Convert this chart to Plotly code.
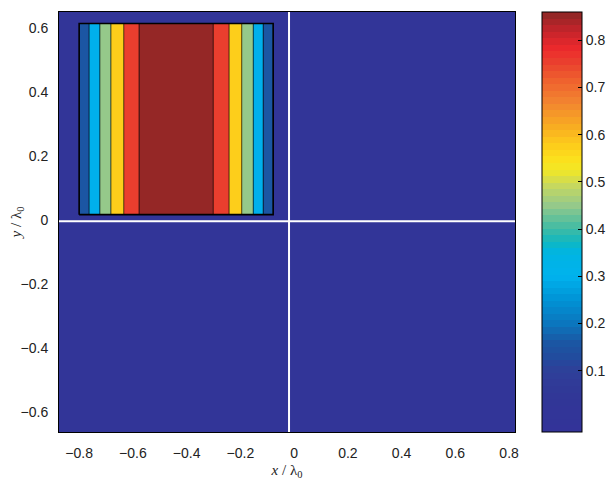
import plotly.graph_objects as go

# ---- data ----
x_range = [-0.875, 0.822]
y_range = [-0.662, 0.65]
band_edges = [-0.800, -0.763, -0.723, -0.682, -0.634, -0.577,
              -0.301, -0.242, -0.195, -0.152, -0.115, -0.078]
band_values = [0.16, 0.30, 0.45, 0.58, 0.75, 0.86, 0.75, 0.58, 0.45, 0.30, 0.16]
band_y = [0.017, 0.614]
background_value = 0.0
divider_x = -0.019
divider_y = -0.004
color_min, color_max = -0.03, 0.86
x_ticks = [-0.8, -0.6, -0.4, -0.2, 0, 0.2, 0.4, 0.6, 0.8]
y_ticks = [-0.6, -0.4, -0.2, 0, 0.2, 0.4, 0.6]
cbar_ticks = [0.1, 0.2, 0.3, 0.4, 0.5, 0.6, 0.7, 0.8]

# colour anchors (value -> colour)
anchors = [
    (-0.03, "#333399"), (0.05, "#313797"), (0.10, "#2E4099"), (0.13, "#214C9E"),
    (0.16, "#1B57A3"), (0.20, "#0B76BE"), (0.25, "#0093D5"), (0.30, "#00B2EE"),
    (0.35, "#00B5E2"), (0.37, "#0DB7C4"), (0.40, "#3DBBA5"), (0.45, "#95C98A"),
    (0.49, "#C4D762"), (0.52, "#EBE52E"), (0.54, "#FAE51D"), (0.58, "#FDCB1B"),
    (0.62, "#F8AA22"), (0.67, "#F28330"), (0.72, "#EF5D2E"), (0.75, "#E9432E"),
    (0.78, "#EE2A2C"), (0.82, "#C4232B"), (0.86, "#8B2825"),
]


def hex2rgb(h):
    h = h.lstrip("#")
    return tuple(int(h[i:i + 2], 16) for i in (0, 2, 4))


def color_at(v):
    if v <= anchors[0][0]:
        return hex2rgb(anchors[0][1])
    for (v0, c0), (v1, c1) in zip(anchors[:-1], anchors[1:]):
        if v0 <= v <= v1:
            t = (v - v0) / (v1 - v0) if v1 > v0 else 0
            a, b = hex2rgb(c0), hex2rgb(c1)
            return tuple(round(a[k] + (b[k] - a[k]) * t) for k in range(3))
    return hex2rgb(anchors[-1][1])


n_steps = 64
colorscale = []
for i in range(n_steps):
    v = color_min + (i + 0.5) / n_steps * (color_max - color_min)
    r, g, b = color_at(v)
    c = f"rgb({r},{g},{b})"
    colorscale.append([i / n_steps, c])
    colorscale.append([(i + 1) / n_steps, c])

# heatmap grid built from band arrays
x_edges = [x_range[0]] + band_edges + [x_range[1]]
y_edges = [y_range[0]] + band_y + [y_range[1]]
n_cols = len(x_edges) - 1
z = []
for row in range(len(y_edges) - 1):
    if row == 1:
        z.append([background_value] + band_values + [background_value])
    else:
        z.append([background_value] * n_cols)

fig = go.Figure()
fig.add_trace(go.Heatmap(
    x=x_edges, y=y_edges, z=z, zmin=color_min, zmax=color_max,
    colorscale=colorscale, hoverinfo="skip",
    colorbar=dict(
        x=1.059, xanchor="left", xpad=0, ypad=0, y=0.5, yanchor="middle",
        len=1, lenmode="fraction", thickness=40, thicknessmode="pixels",
        outlinecolor="black", outlinewidth=1,
        tickvals=cbar_ticks, ticks="inside", ticklen=4, tickcolor="black",
        tickfont=dict(family="Liberation Sans", size=14, color="#222"),
    ),
))

# band outlines (inner edges)
ox, oy = [], []
for xe in band_edges[1:-1]:
    ox += [xe, xe, None]
    oy += [band_y[0], band_y[1], None]
fig.add_trace(go.Scatter(x=ox, y=oy, mode="lines",
                         line=dict(color="rgba(0,0,0,0.7)", width=1),
                         hoverinfo="skip", showlegend=False))
# outer boundary of the band block
fig.add_trace(go.Scatter(
    x=[band_edges[0], band_edges[-1], band_edges[-1], band_edges[0], band_edges[0]],
    y=[band_y[0], band_y[0], band_y[1], band_y[1], band_y[0]],
    mode="lines", line=dict(color="black", width=1.6),
    hoverinfo="skip", showlegend=False))

# quadrant dividers
fig.add_trace(go.Scatter(x=[divider_x, divider_x], y=y_range, mode="lines",
                         line=dict(color="white", width=2), hoverinfo="skip", showlegend=False))
fig.add_trace(go.Scatter(x=x_range, y=[divider_y, divider_y], mode="lines",
                         line=dict(color="white", width=2), hoverinfo="skip", showlegend=False))

axis_common = dict(showgrid=False, zeroline=False, showline=True, linecolor="black",
                   linewidth=1, mirror=True, ticks="",
                   automargin=False,
                   tickfont=dict(family="Liberation Sans", size=14, color="#222"))
fig.update_layout(
    width=606, height=475,
    margin=dict(l=51, r=99, t=4, b=51, autoexpand=False),
    paper_bgcolor="white", plot_bgcolor="#333399",
    showlegend=False,
    xaxis=dict(range=x_range, tickvals=x_ticks, ticklabelstandoff=8,
               title=dict(text="<i>x</i> / λ<sub>0</sub>", standoff=4,
                          font=dict(family="Liberation Serif", size=15, color="#222")),
               **axis_common),
    yaxis=dict(range=y_range, tickvals=y_ticks, ticklabelstandoff=7,
               title=dict(text="<i>y</i> / λ<sub>0</sub>", standoff=4,
                          font=dict(family="Liberation Serif", size=15, color="#222")),
               **axis_common),
)
fig.write_html("out.html")
